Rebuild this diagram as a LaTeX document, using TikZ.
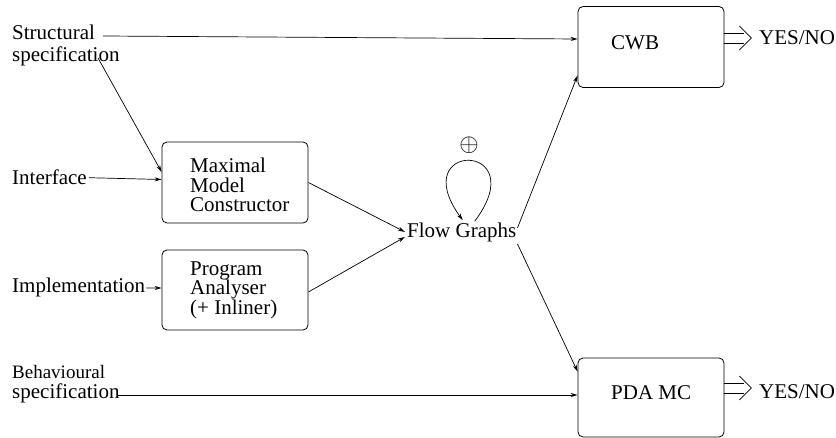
\documentclass[tikz,border=0pt]{standalone}
\usepackage{fontspec}
\setmainfont{Liberation Serif}
\usetikzlibrary{arrows.meta,calc}
\begin{document}
\begin{tikzpicture}[x=1pt,y=-1pt,
  lbl/.style={anchor=base west,inner sep=0pt,font=\fontsize{21}{21}\selectfont},
  boxlbl/.style={lbl,text height=13pt,text depth=3pt},
  smalllbl/.style={anchor=base west,inner sep=0pt,font=\fontsize{19}{19}\selectfont,text depth=1pt},
  procbox/.style={draw,line width=0.8pt,rounded corners=5pt,minimum width=146pt,inner sep=0pt},
  arr/.style={line width=0.7pt,-{Stealth[length=7pt,width=4pt]}},
  dblarrow/.style={line width=0.7pt}]
\useasboundingbox (0,0) rectangle (836,438);
% boxes
\node[procbox,minimum height=81pt] (cwb) at (651,47) {};
\node[procbox,minimum height=81pt] (mmc) at (235,182.5) {};
\node[procbox,minimum height=80pt] (pa) at (235,290) {};
\node[procbox,minimum height=79pt] (pda) at (651,397.5) {};
% box texts
\node[lbl] (cwbt) at (611,50) {CWB};
\node[lbl] (pdat) at (611,400) {PDA MC};
\node[boxlbl] (mmc1) at (190,173) {Maximal};
\node[boxlbl] (mmc2) at (190,192.5) {Model};
\node[boxlbl] (mmc3) at (190,212) {Constructor};
\node[boxlbl] (pa1) at (190,275.5) {Program};
\node[boxlbl] (pa2) at (190,295) {Analyser};
\node[boxlbl] (pa3) at (190,314.5) {(+ Inliner)};
% left labels
\node[boxlbl] (st1) at (12,40) {Structural};
\node[boxlbl] (st2) at (12,62) {specification};
\node[lbl] (intf) at (12,185) {Interface};
\node[lbl] (impl) at (12,293) {Implementation};
\node[smalllbl] (be1) at (12,379) {Behavioural};
\node[boxlbl] (be2) at (12,399) {specification};
% flow graphs
\node[lbl] (flow) at (407,238) {Flow Graphs};
\node[inner sep=0pt,font=\fontsize{23}{23}\selectfont] (plus) at (469,145) {$\oplus$};
% outputs
\node[lbl] (yes1) at (759,45) {YES/NO};
\node[lbl] (yes2) at (759,399) {YES/NO};
\coordinate (s0) at (98,58);
% connectors
\draw[arr] ([xshift=8pt,yshift=-1pt]st1.east) -- ([yshift=8pt]cwb.west);
\draw[arr] (s0) -- ([yshift=10.5pt]mmc.west);
\draw[arr] ([xshift=2pt]intf.east) -- ([yshift=3pt]mmc.west);
\draw[arr] ([xshift=1pt]impl.east) -- ([yshift=2pt]pa.west);
\draw[arr] ([xshift=-2pt,yshift=-1pt]be2.east) -- ([yshift=2.5pt]pda.west);
\draw[arr] (mmc.east) -- ([xshift=-2pt,yshift=1pt]flow.west);
\draw[arr] ([yshift=-2pt]pa.east) -- ([xshift=-2pt,yshift=-4pt]flow.west);
\draw[arr] ([xshift=1pt,yshift=5pt]flow.east) -- ([yshift=12.5pt]cwb.south west);
\draw[arr] ([xshift=1pt,yshift=-11pt]flow.east) -- ([yshift=-14pt]pda.north west);
% loop
\draw[arr] ([xshift=13pt,yshift=2pt]flow.north) .. controls +(60,-80) and +(-58,-80) .. ([xshift=1pt,yshift=3pt]flow.north);
% double arrows
\draw[dblarrow] ([yshift=14pt]cwb.east) -- ++(20,0);
\draw[dblarrow] ([yshift=4pt]cwb.east) -- ++(20,0);
\draw[dblarrow] ($(cwb.east)+(15,-21)$) -- ($(cwb.east)+(27,-9)$) -- ($(cwb.east)+(15,3)$);
\draw[dblarrow] ([yshift=14.5pt]pda.east) -- ++(20,0);
\draw[dblarrow] ([yshift=4.5pt]pda.east) -- ++(20,0);
\draw[dblarrow] ($(pda.east)+(15,-21.5)$) -- ($(pda.east)+(27,-9.5)$) -- ($(pda.east)+(15,2.5)$);
\end{tikzpicture}
\end{document}
